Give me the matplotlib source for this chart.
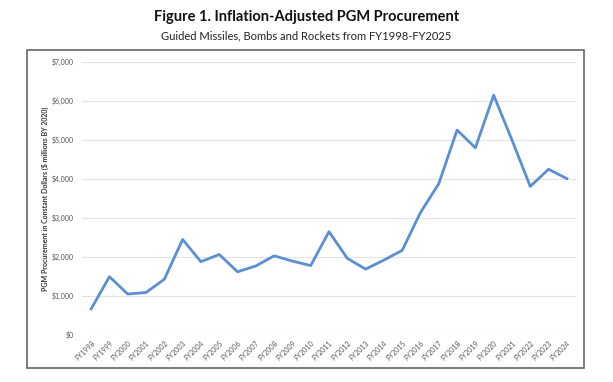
import matplotlib
matplotlib.use("Agg")
import matplotlib.pyplot as plt
from matplotlib.patches import Rectangle
from matplotlib.ticker import FuncFormatter

years = ["FY%d" % y for y in range(1998, 2025)]
values = [670, 1495, 1050, 1090, 1430, 2450, 1880, 2065, 1620, 1770,
          2030, 1895, 1780, 2650, 1965, 1690, 1920, 2170, 3140, 3880,
          5255, 4800, 6150, 5000, 3810, 4250, 4010]

plt.rcParams["font.family"] = ["Lato", "DejaVu Sans"]

fig = plt.figure(figsize=(6.13, 3.82), dpi=100)
ax = fig.add_axes([82 / 613, 1 - 335 / 382, 494 / 613, 273 / 382])

# outer frame around the chart
fig.patches.append(Rectangle((27 / 613, 1 - 368 / 382), 557 / 613, 318 / 382,
                             transform=fig.transFigure, fill=False,
                             edgecolor="#666666", linewidth=1.2))

fig.text(0.5, 1 - 17 / 382, "Figure 1. Inflation-Adjusted PGM Procurement",
         ha="center", va="center", fontsize=10.5, fontweight="bold", color="#111111")
fig.text(0.5, 1 - 36 / 382, "Guided Missiles, Bombs and Rockets from FY1998-FY2025",
         ha="center", va="center", fontsize=8, color="#222222")

x = list(range(len(years)))
ax.plot(x, values, color="#5B8FD3", linewidth=2)

ax.set_xlim(-0.5, len(years) - 0.5)
ax.set_ylim(0, 7000)
ax.set_yticks(range(0, 7001, 1000))
ax.yaxis.set_major_formatter(FuncFormatter(lambda v, p: "${:,.0f}".format(v)))
ax.set_xticks(x)
ax.set_xticklabels(years, rotation=45, ha="right", rotation_mode="anchor")
ax.tick_params(axis="both", length=0, labelsize=5, labelcolor="#555555")
ax.tick_params(axis="y", pad=6)
ax.tick_params(axis="x", pad=3)
ax.grid(axis="y", color="#e3e3e3", linewidth=0.8)
ax.set_axisbelow(True)
for s in ax.spines.values():
    s.set_visible(False)

ax.set_ylabel("PGM Procurement in Constant Dollars ($ millions BY 2020)",
              fontsize=5, color="#333333", fontweight="bold", labelpad=2)

fig.savefig("out.png", dpi=100)
